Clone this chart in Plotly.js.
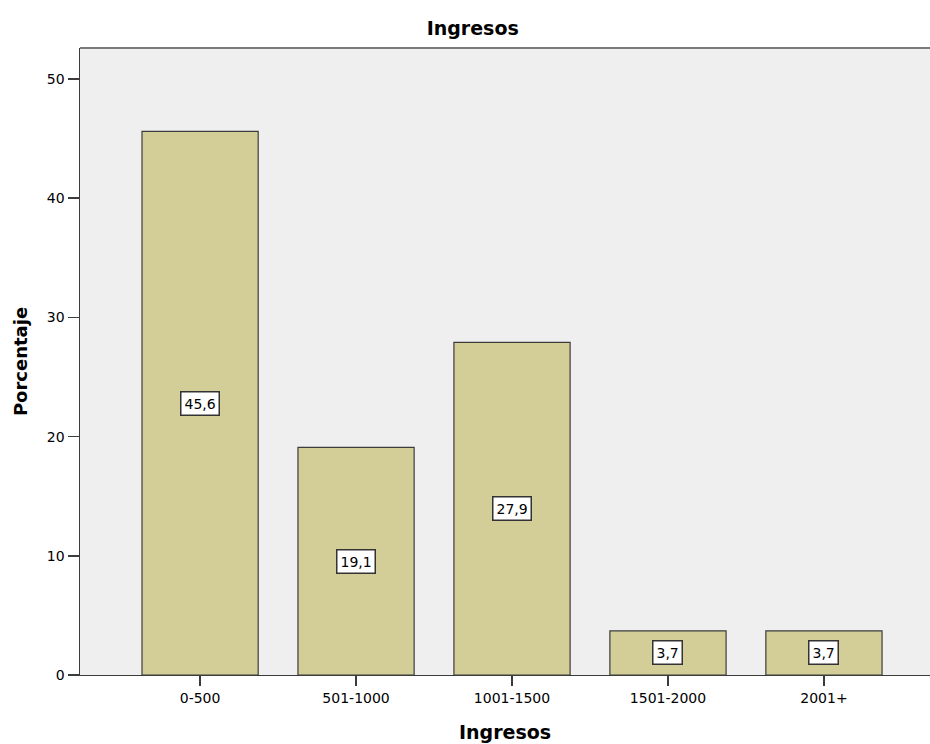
<!DOCTYPE html>
<html>
<head>
<meta charset="utf-8">
<script src="https://cdn.plot.ly/plotly-3.0.1.min.js"></script>
<style>html,body{margin:0;padding:0;background:#fff;}#chart{width:930px;height:744px;}</style>
</head>
<body>
<div id="chart"></div>
<script>
const categories = ["0-500", "501-1000", "1001-1500", "1501-2000", "2001+"];
const percentages = [45.6, 19.1, 27.9, 3.7, 3.7];
const valueLabels = ["45,6", "19,1", "27,9", "3,7", "3,7"];
const yTickVals = [0, 10, 20, 30, 40, 50];

const FONT = "DejaVu Sans, Arial, sans-serif";

const trace = {
  type: "bar",
  x: categories,
  y: percentages,
  width: 0.745,
  marker: {color: "#D3CE97", line: {color: "#3c3c3c", width: 1.2}},
  hoverinfo: "none"
};

const annotations = categories.map((c, i) => ({
  x: c, y: percentages[i] / 2, xref: "x", yref: "y",
  text: valueLabels[i], showarrow: false,
  bgcolor: "#ffffff", bordercolor: "#333333", borderwidth: 1.5, borderpad: 3,
  font: {family: FONT, size: 14, color: "#000"}
}));

const layout = {
  width: 930, height: 744,
  margin: {l: 80, r: 0, t: 48, b: 69},
  paper_bgcolor: "#ffffff",
  plot_bgcolor: "#EFEFEF",
  showlegend: false,
  title: {text: "<b>Ingresos</b>", x: 0.462, xref: "paper", xanchor: "center", y: 1 - 28 / 744, yref: "container", yanchor: "middle",
    font: {family: FONT, size: 19, color: "#000"}},
  xaxis: {
    type: "category", range: [-0.77, 4.68],
    showline: true, linecolor: "#3c3c3c", linewidth: 1.2, mirror: false,
    ticks: "outside", ticklen: 10, tickwidth: 1.5, tickcolor: "#3c3c3c",
    showgrid: false, zeroline: false,
    tickfont: {family: FONT, size: 14, color: "#000"},
    title: {text: "<b>Ingresos</b>", standoff: 20, font: {family: FONT, size: 19, color: "#000"}}
  },
  yaxis: {
    range: [0, 52.6], tickvals: yTickVals,
    showline: true, linecolor: "#3c3c3c", linewidth: 1.5,
    ticks: "outside", ticklen: 11, tickwidth: 1.5, tickcolor: "#3c3c3c",
    showgrid: false, zeroline: false,
    tickfont: {family: FONT, size: 14, color: "#000"},
    title: {text: "<b>Porcentaje</b>", standoff: 14, font: {family: FONT, size: 18, color: "#000"}}
  },
  annotations: annotations,
  shapes: [{type: "line", xref: "paper", yref: "paper", x0: 0, x1: 1, y0: 1, y1: 1,
    line: {color: "#7a7a7a", width: 2}}]
};

Plotly.newPlot("chart", [trace], layout, {displayModeBar: false, staticPlot: true});
</script>
</body>
</html>
